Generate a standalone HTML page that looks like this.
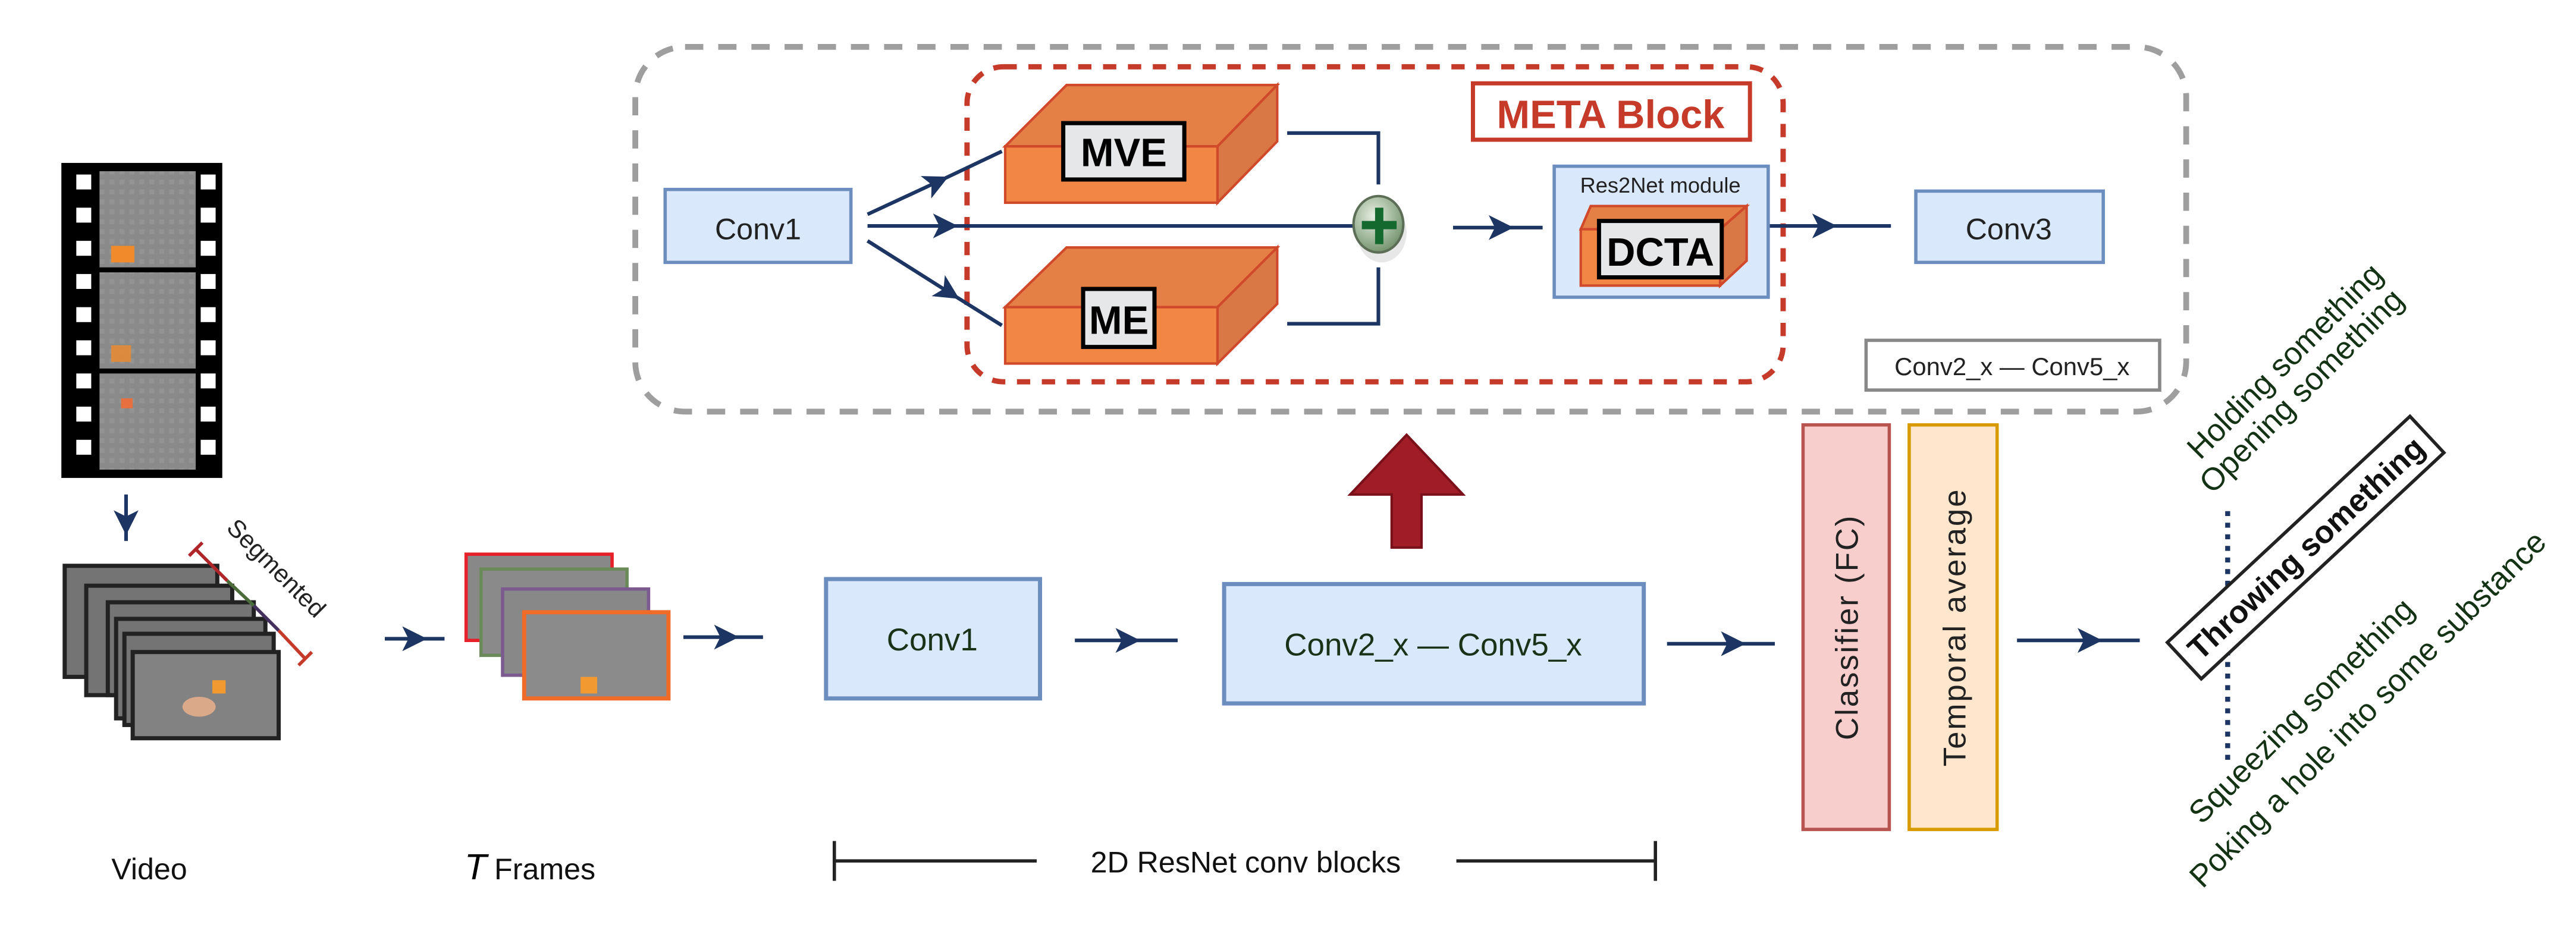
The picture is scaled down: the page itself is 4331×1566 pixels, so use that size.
<!DOCTYPE html>
<html><head><meta charset="utf-8"><style>
html,body{margin:0;padding:0;background:#fff;}
svg{display:block;}
text{font-family:"Liberation Sans",Arial,sans-serif;}
.n{font-family:"Liberation Sans Narrow","Liberation Sans",sans-serif;}
</style></head><body>
<svg width="4331" height="1566" viewBox="0 0 1553 561" xmlns="http://www.w3.org/2000/svg">
<defs>
<marker id="ah" viewBox="0 0 12 12" refX="6" refY="6" markerWidth="15" markerHeight="15" markerUnits="userSpaceOnUse" orient="auto">
<path d="M0,0 L12,6 L0,12 L3,6 Z" fill="#1c3563"/></marker>
<pattern id="gr" width="6" height="6" patternUnits="userSpaceOnUse"><rect width="6" height="6" fill="#8a8a8a"/><rect x="0" y="0" width="3" height="3" fill="#939393"/></pattern>
<radialGradient id="pg" cx="0.4" cy="0.35" r="0.7"><stop offset="0" stop-color="#e6efe2"/><stop offset="1" stop-color="#6f8f68"/></radialGradient>
</defs>

<rect x="383" y="28" width="935" height="220" rx="30" fill="none" stroke="#9e9e9e" stroke-width="3.5" stroke-dasharray="11,9"/>
<rect x="583" y="40" width="492" height="190" rx="22" fill="none" stroke="#c63a2a" stroke-width="3.2" stroke-dasharray="8,7"/>

<rect x="888" y="50" width="167" height="34" fill="#fff" stroke="#c63a2a" stroke-width="2.5"/>
<text x="971" y="77" font-size="24" font-weight="bold" fill="#c63a2a" text-anchor="middle">META Block</text>

<rect x="401" y="114" width="112" height="44" fill="#dae8fc" stroke="#6c8ebf" stroke-width="2"/>
<text x="457" y="144" font-size="18" fill="#222" text-anchor="middle">Conv1</text>

<g stroke="#1c3563" stroke-width="2.2" fill="none">
<path d="M523,129 L565,109.5 L604,91" marker-mid="url(#ah)"/>
<path d="M523,136 L570,136 L818,136" marker-mid="url(#ah)"/>
<path d="M523,145 L572,176 L604,196" marker-mid="url(#ah)"/>
<path d="M776,80 L831,80 L831,111"/>
<path d="M776,195 L831,195 L831,161"/>
<path d="M876,137 L905,137 L930,137" marker-mid="url(#ah)"/>
<path d="M1066,136 L1100,136 L1140,136" marker-mid="url(#ah)"/>
</g>

<g stroke="#d0492a" stroke-width="1.5">
<polygon points="606,88 643,51 770,51 734,88" fill="#e47f45"/>
<polygon points="734,88 770,51 770,85 734,122" fill="#d97745"/>
<rect x="606" y="88" width="128" height="34" fill="#f28645"/>
<polygon points="606,185 643,149 770,149 734,185" fill="#e47f45"/>
<polygon points="734,185 770,149 770,183 734,219" fill="#d97745"/>
<rect x="606" y="185" width="128" height="34" fill="#f28645"/>
</g>
<rect x="641" y="74" width="73" height="34" fill="#e6e7e8" stroke="#000" stroke-width="2.5"/>
<text x="677.5" y="100" font-size="24" font-weight="bold" text-anchor="middle">MVE</text>
<rect x="653" y="174" width="43" height="35" fill="#e6e7e8" stroke="#000" stroke-width="2.5"/>
<text x="674.5" y="201" font-size="24" font-weight="bold" text-anchor="middle">ME</text>

<ellipse cx="833" cy="140" rx="15" ry="18" fill="#ddd" opacity="0.7"/>
<ellipse cx="831" cy="135" rx="15" ry="17" fill="url(#pg)" stroke="#5d6e57" stroke-width="1.5"/>
<rect x="829" y="125" width="5" height="22" fill="#14692f"/>
<rect x="821" y="133" width="21" height="5" fill="#14692f"/>

<rect x="937" y="100" width="129" height="79" fill="#dae8fc" stroke="#6c8ebf" stroke-width="2"/>
<text x="1001" y="116" font-size="13" fill="#222" text-anchor="middle" class="n">Res2Net module</text>
<g stroke="#d0492a" stroke-width="1.5">
<polygon points="953,138 959,124 1053,124 1037,138" fill="#e47f45"/>
<polygon points="1037,138 1053,124 1053,157 1037,172" fill="#d97745"/>
<rect x="953" y="138" width="84" height="34" fill="#f28645"/>
</g>
<rect x="964" y="133" width="74" height="34" fill="#e6e7e8" stroke="#000" stroke-width="2.5"/>
<text x="1001" y="160" font-size="24" font-weight="bold" text-anchor="middle">DCTA</text>

<rect x="1155" y="115" width="113" height="43" fill="#dae8fc" stroke="#6c8ebf" stroke-width="2"/>
<text x="1211" y="144" font-size="18" fill="#222" text-anchor="middle">Conv3</text>

<rect x="1125" y="205" width="177" height="30" fill="#fff" stroke="#888" stroke-width="2"/>
<text x="1213" y="226" font-size="15" fill="#222" text-anchor="middle">Conv2_x — Conv5_x</text>

<polygon points="839,330 857,330 857,298 882,298 848,262 814,298 839,298" fill="#a01c26" stroke="#7a1019" stroke-width="1.5"/>

<rect x="37" y="98" width="97" height="190" fill="#000"/>
<rect x="60" y="103" width="58" height="58" fill="url(#gr)"/>
<rect x="60" y="164" width="58" height="58" fill="url(#gr)"/>
<rect x="60" y="225" width="58" height="58" fill="url(#gr)"/>
<rect x="67" y="148" width="14" height="10" fill="#f08a2a"/>
<rect x="67" y="208" width="12" height="10" fill="#f08a2a" opacity="0.8"/>
<rect x="73" y="240" width="7" height="6" fill="#e87040"/>
<g fill="#fff">
<rect x="46" y="105" width="9" height="9"/><rect x="46" y="125" width="9" height="9"/><rect x="46" y="145" width="9" height="9"/><rect x="46" y="165" width="9" height="9"/><rect x="46" y="185" width="9" height="9"/><rect x="46" y="205" width="9" height="9"/><rect x="46" y="225" width="9" height="9"/><rect x="46" y="245" width="9" height="9"/><rect x="46" y="265" width="9" height="9"/>
<rect x="121" y="105" width="9" height="9"/><rect x="121" y="125" width="9" height="9"/><rect x="121" y="145" width="9" height="9"/><rect x="121" y="165" width="9" height="9"/><rect x="121" y="185" width="9" height="9"/><rect x="121" y="205" width="9" height="9"/><rect x="121" y="225" width="9" height="9"/><rect x="121" y="245" width="9" height="9"/><rect x="121" y="265" width="9" height="9"/>
</g>
<g stroke="#1c3563" stroke-width="2.2" fill="none">
<path d="M76,298 L76,315 L76,326" marker-mid="url(#ah)"/>
<path d="M232,385 L250,385 L268,385" marker-mid="url(#ah)"/>
<path d="M412,384 L438,384 L460,384" marker-mid="url(#ah)"/>
<path d="M648,386 L680,386 L710,386" marker-mid="url(#ah)"/>
<path d="M1005,388 L1045,388 L1070,388" marker-mid="url(#ah)"/>
<path d="M1216,386 L1260,386 L1290,386" marker-mid="url(#ah)"/>
</g>

<g stroke="#222" stroke-width="2.5" fill="#747474">
<rect x="39" y="341" width="92" height="67"/>
<rect x="52" y="353" width="88" height="66"/>
<rect x="65" y="363" width="88" height="56"/>
<rect x="70" y="373" width="90" height="60"/>
<rect x="75" y="382" width="90" height="55"/>
<rect x="80" y="393" width="88" height="52" fill="#828282"/>
</g>
<ellipse cx="120" cy="426" rx="10" ry="6" fill="#d9a98a"/>
<rect x="128" y="410" width="8" height="8" fill="#f29a30"/>
<g stroke-width="2">
<line x1="118" y1="331" x2="137" y2="350" stroke="#b0252a"/>
<line x1="137" y1="350" x2="153" y2="365" stroke="#4b6b3a"/>
<line x1="153" y1="365" x2="168" y2="380" stroke="#43305e"/>
<line x1="168" y1="380" x2="184" y2="397" stroke="#c63a2a"/>
<line x1="114" y1="335" x2="122" y2="327" stroke="#b0252a"/>
<line x1="180" y1="401" x2="188" y2="393" stroke="#c63a2a"/>
</g>
<text transform="translate(163,346) rotate(45)" font-size="15" text-anchor="middle" fill="#222">Segmented</text>

<rect x="281" y="334" width="88" height="52" fill="#888" stroke="#e8202a" stroke-width="2"/>
<rect x="290" y="343" width="88" height="52" fill="#8a8a8a" stroke="#6a8a5a" stroke-width="2"/>
<rect x="303" y="355" width="88" height="52" fill="#888" stroke="#7a5a8f" stroke-width="2"/>
<rect x="316" y="369" width="87" height="52" fill="#8b8b8b" stroke="#f06a28" stroke-width="2.5"/>
<rect x="350" y="408" width="10" height="10" fill="#f29a30"/>

<rect x="498" y="349" width="129" height="72" fill="#dae8fc" stroke="#6c8ebf" stroke-width="2.5"/>
<text x="562" y="392" font-size="19" fill="#1a3318" text-anchor="middle" class="n">Conv1</text>
<rect x="738" y="352" width="253" height="72" fill="#dae8fc" stroke="#6c8ebf" stroke-width="2.5"/>
<text x="864" y="395" font-size="19" fill="#1a3318" text-anchor="middle" class="n">Conv2_x — Conv5_x</text>

<rect x="1087" y="256" width="52" height="244" fill="#f8cecc" stroke="#b85450" stroke-width="2"/>
<text transform="translate(1120,378) rotate(-90)" font-size="19" fill="#222" text-anchor="middle" letter-spacing="1">Classifier (FC)</text>
<rect x="1151" y="256" width="53" height="244" fill="#ffe6cc" stroke="#d79b00" stroke-width="2"/>
<text transform="translate(1185,378) rotate(-90)" font-size="19" fill="#222" text-anchor="middle" letter-spacing="1">Temporal average</text>

<g stroke="#222" stroke-width="2">
<line x1="503" y1="507" x2="503" y2="531"/>
<line x1="998" y1="507" x2="998" y2="531"/>
<line x1="503" y1="519" x2="625" y2="519"/>
<line x1="878" y1="519" x2="998" y2="519"/>
</g>
<text x="751" y="526" font-size="18" fill="#111" text-anchor="middle" class="n">2D ResNet conv blocks</text>
<text x="90" y="530" font-size="18" fill="#111" text-anchor="middle">Video</text>
<text x="280" y="530" font-size="22" font-style="italic" font-family="Liberation Serif,serif">T</text>
<text x="298" y="530" font-size="18" fill="#111">Frames</text>

<line x1="1343" y1="308" x2="1343" y2="462" stroke="#1c3563" stroke-width="3" stroke-dasharray="3,4"/>
<g fill="#143214" font-size="19" text-anchor="middle">
<text transform="translate(1382,222) rotate(-45)">Holding something</text>
<text transform="translate(1392,240) rotate(-45)">Opening something</text>
<text transform="translate(1392,433) rotate(-45)">Squeezing something</text>
<text transform="translate(1432,432) rotate(-45)">Poking a hole into some substance</text>
</g>
<g transform="translate(1390,330) rotate(-43)">
<rect x="-100" y="-15" width="200" height="30" fill="#fff" stroke="#222" stroke-width="2"/>
<text x="0" y="7" font-size="19" font-weight="bold" text-anchor="middle" fill="#111">Throwing something</text>
</g>
</svg>
</body></html>
